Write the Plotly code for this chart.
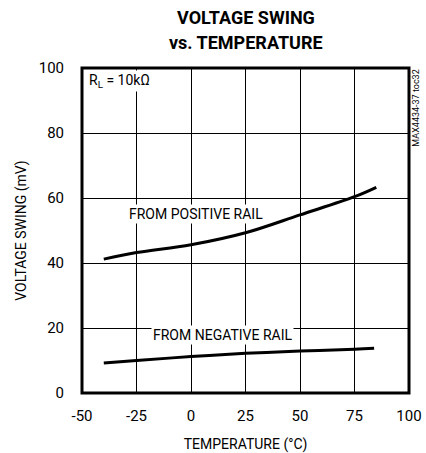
import plotly.graph_objects as go

# 数据
temp_pos = [-40, -25, 0, 25, 50, 75, 85]
swing_pos = [41.2, 43.2, 45.6, 49.3, 54.8, 60.4, 63.3]

temp_neg = [-40, -25, 0, 25, 50, 75, 84]
swing_neg = [9.2, 10.0, 11.2, 12.2, 12.9, 13.5, 13.8]

x_ticks = [-50, -25, 0, 25, 50, 75, 100]
x_labels = ["-50", "-25", "0", "25", "50", "75", "100"]
y_ticks = [0, 20, 40, 60, 80, 100]
y_labels = ["0", "20", "40", "60", "80", "100"]

FONT = "Roboto, Liberation Sans, sans-serif"

fig = go.Figure()
for xs, ys in [(temp_pos, swing_pos), (temp_neg, swing_neg)]:
    fig.add_trace(go.Scatter(
        x=xs, y=ys, mode="lines",
        line=dict(color="black", width=3, shape="spline"),
        showlegend=False, hoverinfo="skip",
    ))

# 用透明的外刻度线把刻度标签推开
axis_common = dict(
    showgrid=True, gridcolor="black", gridwidth=1,
    zeroline=False, showline=False, automargin=False,
    ticks="outside", tickcolor="rgba(0,0,0,0)",
    tickfont=dict(family=FONT, size=15, color="black"),
    title_font=dict(family=FONT, size=14, color="black"),
)

fig.update_layout(
    width=426, height=453,
    paper_bgcolor="white", plot_bgcolor="white",
    margin=dict(l=82, r=17, t=68, b=60),
    font=dict(family=FONT, color="black"),
    xaxis=dict(range=[-50, 100], tickvals=x_ticks, ticktext=x_labels, ticklen=9,
               title=dict(text="TEMPERATURE (°C)", standoff=16), **axis_common),
    yaxis=dict(range=[0, 100], tickvals=y_ticks, ticktext=y_labels, ticklen=14,
               title=dict(text="VOLTAGE SWING (mV)", standoff=8), **axis_common),
)

# 标题（两行分开放）
fig.add_annotation(xref="paper", yref="paper", x=0.5, y=1.0, yshift=51, yanchor="middle",
                   text="<b>VOLTAGE SWING</b>", showarrow=False,
                   font=dict(family=FONT, size=18, color="black"))
fig.add_annotation(xref="paper", yref="paper", x=0.5, y=1.0, yshift=26, yanchor="middle",
                   text="<b>vs. TEMPERATURE</b>", showarrow=False,
                   font=dict(family=FONT, size=18, color="black"))

# 粗边框
fig.add_shape(type="rect", xref="paper", yref="paper", x0=0, y0=0, x1=1, y1=1,
              line=dict(color="black", width=3), layer="above")

fig.add_annotation(x=2.5, y=55, text="FROM POSITIVE RAIL", showarrow=False,
                   bgcolor="white", font=dict(family=FONT, size=14, color="black"))
fig.add_annotation(x=14.5, y=18, text="FROM NEGATIVE RAIL", showarrow=False,
                   bgcolor="white", font=dict(family=FONT, size=14, color="black"))
fig.add_annotation(x=-47.5, y=96, xanchor="left", text="R<sub>L</sub> = 10kΩ", showarrow=False,
                   bgcolor="white", font=dict(family=FONT, size=14, color="black"))
fig.add_annotation(xref="paper", yref="paper", x=1.0, y=0.875, xanchor="center", yanchor="middle",
                   xshift=7, text="MAX4434-37 toc32", textangle=-90, showarrow=False,
                   font=dict(family=FONT, size=9, color="black"))

# 去掉 body 默认的 8px 边距，让图正好贴住窗口；隐藏工具栏
fig.write_html("out.html", config={"displayModeBar": False},
               post_script="document.body.style.margin='0';")
